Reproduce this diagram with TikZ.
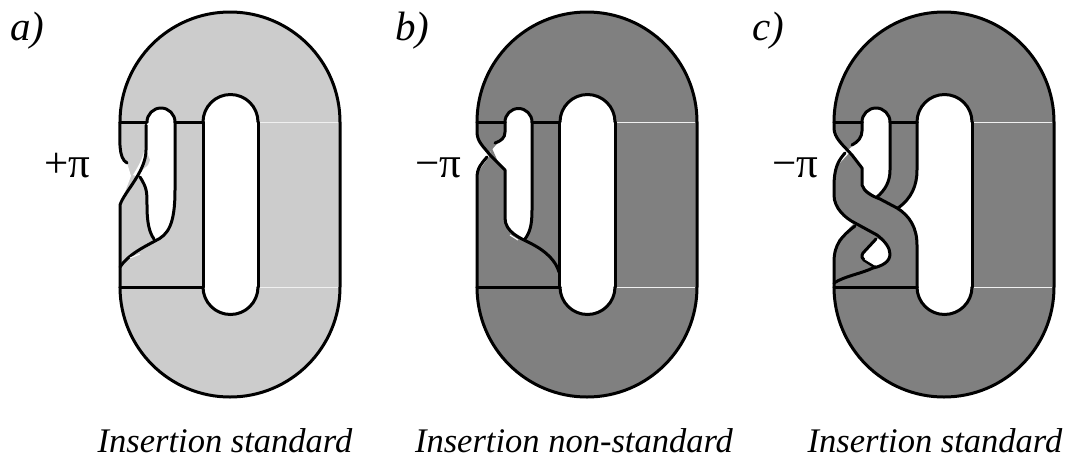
\documentclass[tikz,border=0pt]{standalone}
\usepackage{fontspec}
\setmainfont{Liberation Serif}
\tikzset{
  ink/.style={draw=black,line width=3pt,line cap=round,line join=round},
  seam/.style={draw=white!88!gray,line width=0.7pt},
  lab/.style={font=\fontsize{41}{44}\selectfont\itshape,anchor=base west,inner sep=0pt},
  captext/.style={font=\fontsize{34.5}{38}\selectfont\itshape,anchor=base,inner sep=0pt},
  ang/.style={font=\fontsize{43}{46}\selectfont,anchor=base west,inner sep=0pt},
}
\definecolor{lightband}{gray}{0.8}
\definecolor{darkband}{gray}{0.5}
% #1 = x of the left edge (120 in panel a), #2 = fill colour
\newcommand{\bandfill}[2]{%
  \fill[#2] (#1,122) arc[start angle=180,end angle=360,radius=110] -- (#1+220,287)
     arc[start angle=0,end angle=180,radius=110] -- cycle;
  \fill[white] (#1+83,122) arc[start angle=180,end angle=360,radius=27.5] -- (#1+138,287)
     arc[start angle=0,end angle=180,radius=27.5] -- cycle;
}
\newcommand{\bandink}[1]{%
  \draw[ink] (#1,122) arc[start angle=180,end angle=360,radius=110] -- (#1+220,287)
     arc[start angle=0,end angle=180,radius=110];
  \draw[ink] (#1+83,122) arc[start angle=180,end angle=360,radius=27.5];
  \draw[ink] (#1+83,287) arc[start angle=180,end angle=0,radius=27.5] ;
  \draw[ink] (#1+138,122) -- (#1+138,287);
  \draw[ink] (#1,287) -- (#1+83,287);
  \draw[seam] (#1+140,122) -- (#1+218,122) (#1+140,287) -- (#1+218,287);
}
\begin{document}
\begin{tikzpicture}[x=1pt,y=-1pt]
\useasboundingbox (0,0) rectangle (1069,459);
%% panel a
\bandfill{120}{lightband}
\fill[white] (118,140) -- (120,140) .. controls (120,150) and (120,160) .. (127,163)
   -- (131,176) -- (120,205) -- (118,205) -- cycle;
\fill[white] (147,122) arc[start angle=180,end angle=360,radius=14] -- (175,203)
   .. controls (174,220) and (170,232) .. (155,240)
   .. controls (148,228) and (147,215) .. (147,197)
   .. controls (147,190) and (144,182) .. (139,177) -- (133,175)
   .. controls (142,160) and (147,152) .. (146,125) -- cycle;
\fill[lightband] (146,150) -- (150,160) -- (148,165) -- (140,172) -- cycle;
\draw[ink] (120,122) -- (147,122) (175,122) -- (203,122);
\draw[ink] (147,122) arc[start angle=180,end angle=360,radius=14];
\draw[ink] (120,122) .. controls (120,140) and (118,158) .. (127,163);
\draw[ink] (120,287) -- (120,205) .. controls (124,192) and (146,172) .. (146,150) -- (146,125);
\draw[ink] (175,122) -- (175,190) .. controls (175,225) and (168,235) .. (155,241)
   .. controls (142,248) and (128,255) .. (120,267);
\draw[ink] (140,177) .. controls (147,188) and (147,192) .. (147,205)
   .. controls (147,222) and (149,232) .. (154,239);
\draw[ink] (203,122) -- (203,287);
\draw[white,line width=1pt] (130,258) -- (140,254);
\bandink{120}
%% panel b
\bandfill{477}{darkband}
\fill[white] (475,130) -- (477,132) .. controls (477,142) and (484,147) .. (490,155)
   -- (478,172) -- (478,178) -- (475,178) -- cycle;
\fill[white] (505,122) arc[start angle=180,end angle=360,radius=13.5] -- (532,217)
   .. controls (532,228) and (530,234) .. (525,240)
   .. controls (515,236) and (505,228) .. (505,218) -- (505,170) -- (490,152)
   -- (497,144) .. controls (502,140) and (505,136) .. (505,130) -- cycle;
\fill[darkband] (491,146) -- (495,155) -- (498,162) -- (490,155) -- cycle;
\draw[ink] (477,122) -- (505,122) (532,122) -- (559,122);
\draw[ink] (505,122) arc[start angle=180,end angle=360,radius=13.5];
\draw[ink] (477,122) -- (477,132) .. controls (477,142) and (484,147) .. (490,155)
   -- (505,170) -- (505,218) .. controls (505,232) and (520,238) .. (530,243)
   .. controls (548,252) and (556,262) .. (559,272);
\draw[ink] (505,122) -- (505,132) .. controls (505,138) and (501,141) .. (495,143);
\draw[ink] (487,157) .. controls (481,164) and (477,168) .. (477,178) -- (477,287);
\draw[ink] (532,122) -- (532,210) .. controls (532,225) and (530,232) .. (525,239);
\draw[ink] (559,122) -- (559,287);
\draw[white,line width=1pt] (510,235) -- (518,240);
\bandink{477}
%% panel c
\bandfill{834}{darkband}
\fill[white] (832,128) -- (834,128) .. controls (834,138) and (843,145) .. (850,152)
   -- (838,165) -- (834,180) -- (832,180) -- cycle;
\fill[white] (832,195) -- (834,195) .. controls (834,208) and (845,218) .. (853,224)
   -- (838,240) -- (834,257) -- (832,257) -- cycle;
\fill[white] (862,122) arc[start angle=180,end angle=360,radius=14] -- (890,170)
   .. controls (890,182) and (885,190) .. (877,197)
   .. controls (868,190) and (862,188) .. (862,180) -- (862,168) -- (848,150)
   .. controls (858,142) and (862,136) .. (862,128) -- cycle;
\fill[white] (876,238) .. controls (888,243) and (890,252) .. (890,255)
   .. controls (890,262) and (884,265) .. (875,268) -- (863,260)
   .. controls (860,256) and (862,254) .. (876,238) -- cycle;
\fill[white] (899,207) .. controls (912,198) and (917,185) .. (917,170) -- (919,170) -- (919,245) -- (917,245)
   .. controls (917,228) and (910,216) .. (899,207) -- cycle;
\draw[ink] (834,122) -- (862,122) (890,122) -- (917,122);
\draw[ink] (862,122) arc[start angle=180,end angle=360,radius=14];
\draw[ink] (834,122) -- (834,128) .. controls (834,138) and (843,145) .. (852,155)
   -- (862,168) -- (862,185) .. controls (864,192) and (872,196) .. (880,199)
   -- (897,208) .. controls (910,216) and (917,228) .. (917,245) -- (917,287);
\draw[ink] (917,122) -- (917,170) .. controls (917,185) and (912,198) .. (898,208);
\draw[ink] (890,122) -- (890,170) .. controls (890,182) and (885,190) .. (877,197);
\draw[ink] (862,122) -- (862,131) .. controls (862,137) and (858,142) .. (852,145);
\draw[ink] (845,153) .. controls (838,161) and (834,168) .. (834,187)
   -- (834,195) .. controls (834,208) and (845,218) .. (855,223)
   -- (877,235) .. controls (885,241) and (890,248) .. (890,254)
   .. controls (890,262) and (882,266) .. (873,268)
   .. controls (860,274) and (845,276) .. (834,283);
\draw[ink] (855,226) .. controls (842,236) and (834,244) .. (834,262) -- (834,287);
\draw[ink] (876,239) -- (863,253) .. controls (861,256) and (862,259) .. (864,260) -- (875,267);
\draw[white,line width=1pt] (865,259) -- (875,265);
\bandink{834}
%% labels
\node[lab] (la) at (10,40) {a)};
\node[lab] (lb) at (395,40) {b)};
\node[lab] (lc) at (752,40) {c)};
\node[ang] (pa) at (44,177) {+π};
\node[ang] (pb) at (415,177) {−π};
\node[ang] (pc) at (772,177) {−π};
\node[captext] (ca) at (225,452) {Insertion standard};
\node[captext] (cb) at (574,452) {Insertion non-standard};
\node[captext] (cc) at (935,452) {Insertion standard};
\end{tikzpicture}
\end{document}
